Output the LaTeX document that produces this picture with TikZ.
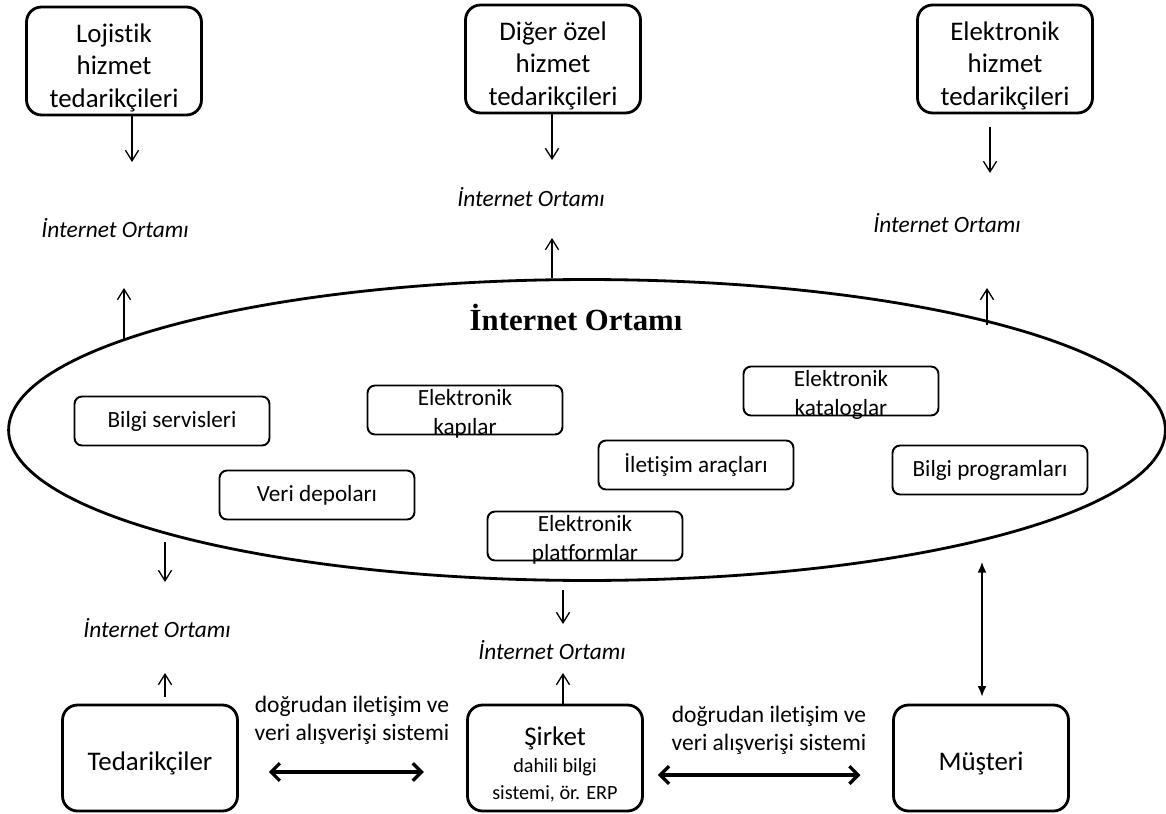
\documentclass[tikz,border=0pt]{standalone}
\usepackage{fontspec}
\setmainfont{Carlito}[Ligatures=NoCommon]
\newfontfamily\titlefont{Liberation Serif}
\usetikzlibrary{shapes.geometric,arrows.meta}

\begin{document}
\begin{tikzpicture}[x=0.02cm, y=-0.02cm,
  bigbox/.style={draw, line width=1.6pt, rounded corners=0.3cm, minimum width=3.5cm, minimum height=2.16cm, inner ysep=0pt, align=center, font=\fontsize{15.3}{18.7}\selectfont},
  ibox/.style={draw, line width=1.1pt, rounded corners=0.15cm, minimum width=3.9cm, minimum height=0.98cm, align=center, font=\fontsize{13.2}{16.4}\selectfont},
  twoline/.style={inner ysep=0pt, text height=27.6pt, text depth=0.2pt},
  olabel/.style={font=\itshape\fontsize{13.3}{16}\selectfont},
  dlabel/.style={align=center, font=\fontsize{13.4}{16}\selectfont},
  arr/.style={line width=0.75pt, -{Straight Barb[length=6pt,width=7.5pt]}},
  dblarr/.style={line width=0.75pt, {Latex[length=6pt,width=5pt]}-{Latex[length=6pt,width=5pt]}},
  link/.style={line width=1.9pt, {Straight Barb[length=5pt,width=10pt]}-{Straight Barb[length=5pt,width=10pt]}}]
\useasboundingbox (0,0) rectangle (1166,814);

\node[bigbox, text height=55.5pt, text depth=2.3pt] (loj) at (114,61) {Lojistik\\hizmet\\tedarikçileri};
\node[bigbox, text height=55.5pt, text depth=2.3pt] (diger) at (553,59) {Diğer özel\\hizmet\\tedarikçileri};
\node[bigbox, text height=55.5pt, text depth=2.3pt] (elek) at (1005,59) {Elektronik\\hizmet\\tedarikçileri};

\node[olabel] (o1) at (115,228) {İnternet Ortamı};
\node[olabel] (o2) at (531,197) {İnternet Ortamı};
\node[olabel] (o3) at (947,223) {İnternet Ortamı};

\coordinate (t1) at (132,162);
\coordinate (t2) at (552,160);
\coordinate (t3) at (990,173);
\draw[arr] (loj.south -| t1) -- (t1);
\draw[arr] (diger.south -| t2) -- (t2);
\draw[arr, shorten <=7pt] (elek.south -| t3) -- (t3);

\node[draw, ellipse, line width=1.6pt, minimum width=23.14cm, minimum height=6.02cm, inner sep=0pt] (net) at (587,430) {};
\node[font=\titlefont\bfseries\fontsize{17.5}{20}\selectfont] (title) at (576,317) {İnternet Ortamı};

\coordinate (e1) at (124,340);
\coordinate (u1) at (124,288);
\coordinate (u2) at (552,238);
\coordinate (e3) at (987,325);
\coordinate (u3) at (987,288);
\draw[arr] (e1) -- (u1);
\draw[arr] (net.north -| u2) -- (u2);
\draw[arr] (e3) -- (u3);

\node[ibox] (bserv) at (172,421) {Bilgi servisleri};
\node[ibox, twoline] (kapi) at (465,410) {Elektronik\\kapılar};
\node[ibox] (veri) at (317,495) {Veri depoları};
\node[ibox, twoline] (platf) at (585,536) {Elektronik\\platformlar};
\node[ibox] (ilet) at (696,465) {İletişim araçları};
\node[ibox, twoline] (katal) at (841,391) {Elektronik\\kataloglar};
\node[ibox] (bprog) at (990,470) {Bilgi programları};

\node[olabel] (o4) at (157,628) {İnternet Ortamı};
\node[olabel] (o5) at (552,650) {İnternet Ortamı};
\coordinate (d1s) at (165,542);
\coordinate (d1) at (165,582);
\coordinate (d2s) at (563,590);
\coordinate (d2) at (563,624);
\draw[arr] (d1s) -- (d1);
\draw[arr] (d2s) -- (d2);

\node[bigbox, minimum height=2.12cm, text height=17pt, text depth=3pt] (ted) at (150,758) {Tedarikçiler};
\node[bigbox, minimum height=2.12cm, text height=50.6pt, text depth=3pt] (sirket) at (555,758) {Şirket\\[-3.4pt]{\fontsize{11.5}{13.5}\selectfont dahili bilgi}\\[-2.9pt]{\fontsize{11.5}{13.5}\selectfont sistemi, ör. ERP}};
\node[bigbox, minimum height=2.12cm, text height=17pt, text depth=3pt] (must) at (981,758) {Müşteri};

\coordinate (u4) at (165,673);
\coordinate (u5) at (563,673);
\draw[arr, shorten <=4pt] (ted.north -| u4) -- (u4);
\draw[arr] (sirket.north -| u5) -- (u5);

\coordinate (m1) at (982,562);
\draw[dblarr, shorten >=4pt] (m1) -- (must.north -| m1);

\node[dlabel] (dl1) at (352,720) {doğrudan iletişim ve\\veri alışverişi sistemi};
\node[dlabel] (dl2) at (769,730) {doğrudan iletişim ve\\veri alışverişi sistemi};

\coordinate (h1) at (0,772);
\coordinate (h2) at (0,775);
\draw[link, shorten <=17pt, shorten >=24pt] (ted.east |- h1) -- (sirket.west |- h1);
\draw[link, shorten <=8pt, shorten >=18pt] (sirket.east |- h2) -- (must.west |- h2);
\end{tikzpicture}
\end{document}
